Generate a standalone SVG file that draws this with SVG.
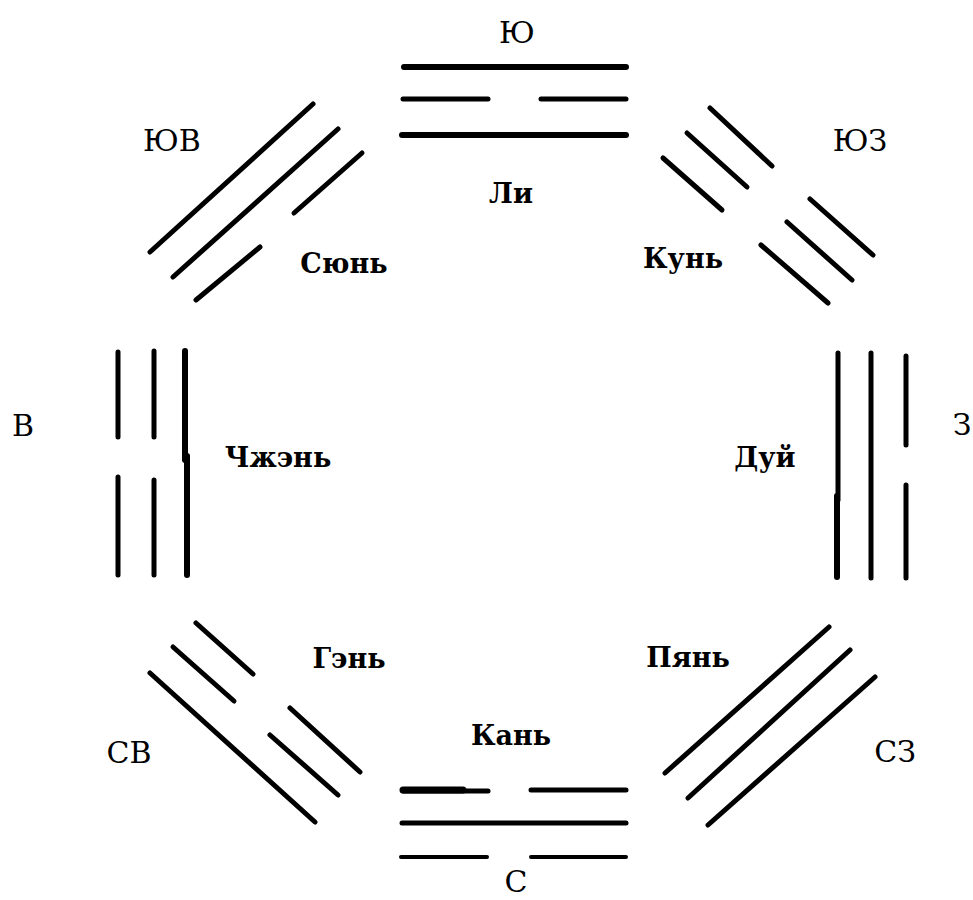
<svg xmlns="http://www.w3.org/2000/svg" width="973" height="900" viewBox="0 0 973 900">
<style>
.ln{stroke:#000;stroke-width:5;stroke-linecap:round;fill:none}
.t{font-family:"DejaVu Serif","Liberation Serif",serif;font-size:30px;fill:#000;text-anchor:middle}
.n{font-weight:bold;font-size:27px}
</style>
<rect width="973" height="900" fill="#fff"/>
<g id="li">
<line class="ln" x1="404" y1="67" x2="626" y2="67" style="stroke-width:6"/>
<line class="ln" x1="403" y1="99" x2="488" y2="99"/>
<line class="ln" x1="541" y1="99" x2="626" y2="99"/>
<line class="ln" x1="402" y1="135" x2="626" y2="135" style="stroke-width:6"/>
<text class="t" x="517" y="43">Ю</text>
<text class="t n" x="511" y="203">Ли</text>
</g>
<g id="sun">
<line class="ln" x1="150" y1="252" x2="313" y2="104"/>
<line class="ln" x1="173" y1="277" x2="338" y2="129"/>
<line class="ln" x1="294" y1="213" x2="362" y2="153"/>
<line class="ln" x1="196" y1="300" x2="260" y2="247"/>
<text class="t" x="172" y="151">ЮВ</text>
<text class="t n" x="344" y="273">Сюнь</text>
</g>
<g id="kun">
<line class="ln" x1="710" y1="108" x2="772" y2="166"/>
<line class="ln" x1="810" y1="199" x2="873" y2="255"/>
<line class="ln" x1="687" y1="133" x2="747" y2="187"/>
<line class="ln" x1="787" y1="222" x2="852" y2="280"/>
<line class="ln" x1="663" y1="158" x2="722" y2="210"/>
<line class="ln" x1="761" y1="245" x2="828" y2="303"/>
<text class="t" x="860" y="151">ЮЗ</text>
<text class="t n" x="683" y="268">Кунь</text>
</g>
<g id="zhen">
<line class="ln" x1="118" y1="352" x2="118" y2="437"/>
<line class="ln" x1="118" y1="477" x2="118" y2="575"/>
<line class="ln" x1="154" y1="351" x2="154" y2="437"/>
<line class="ln" x1="154" y1="480" x2="154" y2="575"/>
<line class="ln" x1="185" y1="351" x2="185" y2="460" style="stroke-width:6"/>
<line class="ln" x1="187" y1="456" x2="187" y2="575" style="stroke-width:6"/>
<text class="t" x="23" y="436">В</text>
<text class="t n" x="278" y="467">Чжэнь</text>
</g>
<g id="dui">
<line class="ln" x1="838" y1="353" x2="838" y2="500"/>
<line class="ln" x1="837" y1="496" x2="837" y2="577" style="stroke-width:6"/>
<line class="ln" x1="871" y1="353" x2="871" y2="578"/>
<line class="ln" x1="906" y1="356" x2="906" y2="445"/>
<line class="ln" x1="906" y1="485" x2="906" y2="578"/>
<text class="t" x="962" y="435">З</text>
<text class="t n" x="765" y="467">Дуй</text>
</g>
<g id="gen">
<line class="ln" x1="196" y1="623" x2="253" y2="674"/>
<line class="ln" x1="290" y1="708" x2="360" y2="772"/>
<line class="ln" x1="173" y1="647" x2="234" y2="701"/>
<line class="ln" x1="270" y1="735" x2="338" y2="795"/>
<line class="ln" x1="150" y1="673" x2="315" y2="822"/>
<text class="t" x="129" y="763">СВ</text>
<text class="t n" x="349" y="668">Гэнь</text>
</g>
<g id="kan">
<line class="ln" x1="403" y1="790" x2="463" y2="790" style="stroke-width:7"/>
<line class="ln" x1="403" y1="791" x2="488" y2="791"/>
<line class="ln" x1="531" y1="790" x2="626" y2="790"/>
<line class="ln" x1="402" y1="823" x2="626" y2="823"/>
<line class="ln" x1="401" y1="857" x2="487" y2="857" style="stroke-width:4"/>
<line class="ln" x1="531" y1="857" x2="626" y2="857" style="stroke-width:4"/>
<text class="t n" x="511" y="745">Кань</text>
<text class="t" x="516" y="892">С</text>
</g>
<g id="pian">
<line class="ln" x1="665" y1="773" x2="829" y2="627"/>
<line class="ln" x1="688" y1="798" x2="850" y2="650"/>
<line class="ln" x1="708" y1="825" x2="875" y2="677"/>
<text class="t" x="895" y="762">СЗ</text>
<text class="t n" x="688" y="667">Пянь</text>
</g>
<g id="connectors"/>
</svg>
